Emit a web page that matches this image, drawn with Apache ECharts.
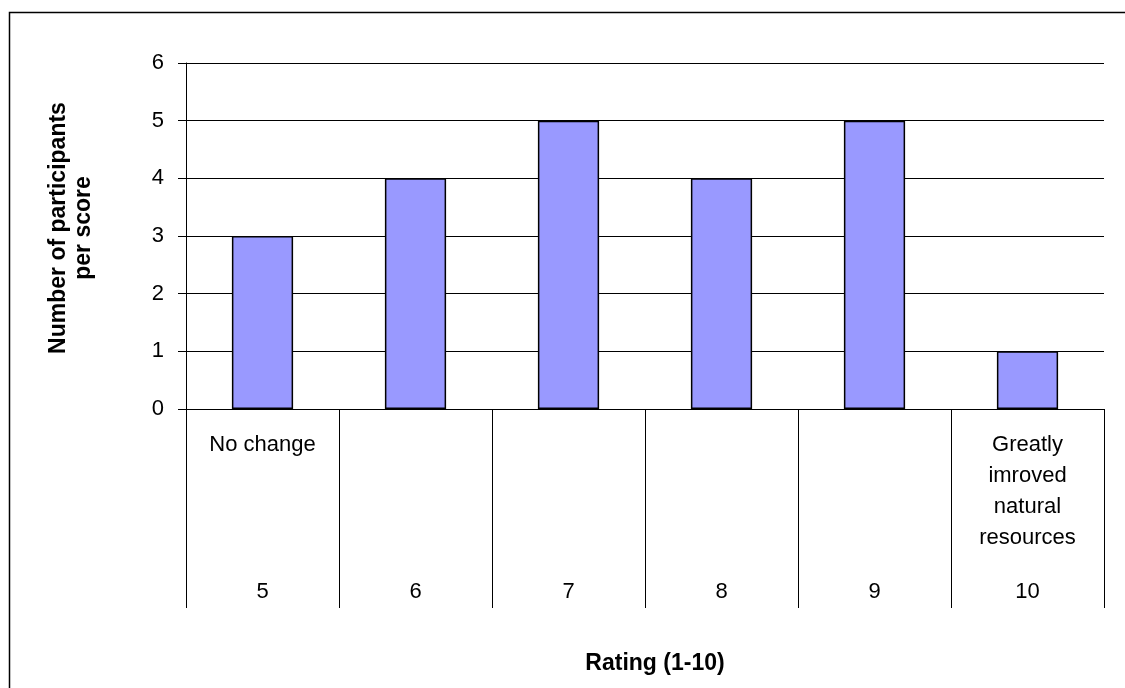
<!DOCTYPE html>
<html><head><meta charset="utf-8">
<script src="https://cdn.jsdelivr.net/npm/echarts@6/dist/echarts.min.js"></script>
<style>html,body{margin:0;padding:0;background:#fff}#c{width:1125px;height:688px}</style>
</head><body><div id="c"></div>
<script>
const ratings = ['5','6','7','8','9','10'];
const descriptions = ['No change','','','','','Greatly\nimroved\nnatural\nresources'];
const participants = [3,4,5,4,5,1];
const yTicks = [0,1,2,3,4,5,6];

const chart = echarts.init(document.getElementById('c'));
const font = '"Liberation Sans", Arial, sans-serif';
chart.setOption({
  animation:false,
  backgroundColor:'#fff',
  graphic:[{type:'rect',shape:{x:9.5,y:12.5,width:1130,height:700},style:{fill:'none',stroke:'#000',lineWidth:1.5},z:-1}],
  grid:{left:186,right:21,top:63,bottom:279},
  xAxis:[{
    type:'category',data:ratings,position:'bottom',
    axisLine:{show:true,lineStyle:{color:'#000',width:1}},
    axisTick:{show:true,length:199,lineStyle:{color:'#000',width:1}},
    axisLabel:{margin:172,color:'#000',fontFamily:font,fontSize:22},
    name:'Rating (1-10)',nameLocation:'middle',nameGap:243,
    nameTextStyle:{color:'#000',fontFamily:font,fontSize:23,fontWeight:'bold',padding:[0,0,0,20]}
  },{
    type:'category',data:descriptions,position:'bottom',
    axisLine:{show:false},axisTick:{show:false},
    axisLabel:{margin:20,color:'#000',fontFamily:font,fontSize:22,lineHeight:31,verticalAlign:'top',interval:0}
  }],
  yAxis:{
    type:'value',min:0,max:6,interval:1,
    axisLine:{show:true,lineStyle:{color:'#000',width:1}},
    axisTick:{show:true,length:8,lineStyle:{color:'#000'}},
    axisLabel:{margin:22,color:'#000',fontFamily:font,fontSize:22,
      formatter:v=>yTicks.includes(v)?String(v):''},
    splitLine:{show:true,lineStyle:{color:'#000',width:1}},
    name:'Number of participants\nper score',nameLocation:'middle',nameGap:90,
    nameTextStyle:{color:'#000',fontFamily:font,fontSize:23,fontWeight:'bold',lineHeight:25,align:'center',padding:[0,0,0,16]}
  },
  series:[{
    type:'bar',data:participants,barWidth:'40%',xAxisIndex:0,
    itemStyle:{color:'#9999FF',borderColor:'#000',borderWidth:1.5}
  },{
    type:'bar',data:[],xAxisIndex:1
  }]
});
</script></body></html>
